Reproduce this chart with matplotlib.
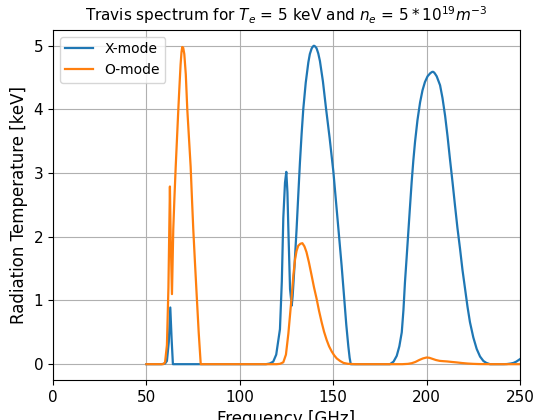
import matplotlib
matplotlib.use("Agg")
import matplotlib.pyplot as plt

# X-mode spectrum (frequency in GHz, radiation temperature in keV)
x_freq = [50, 58, 60, 61, 62, 62.8, 63.5, 64.2, 70, 100, 114, 116, 117.9, 119.5,
          121.5, 122.5, 123.3, 124.2, 124.9, 125.5, 126, 126.9, 127.8, 128.3,
          129.3, 130.4, 131.3, 132.2, 133.1, 134.0, 135.3, 136.7, 137.5, 138.5,
          139.2, 139.7, 140.3, 141.1, 142.0, 142.9, 144.5, 146.1, 148.1, 150.1,
          151.6, 153.1, 154.5, 155.8, 157.0, 158.1, 158.8, 159.4, 165, 178,
          180.4, 182.3, 184, 185.4, 186.7, 187.6, 188.4, 189.3, 190.2, 191.1,
          192.0, 192.9, 193.8, 195.1, 196.5, 197.8, 199.1, 200.5, 202.0, 203.0,
          203.6, 204.3, 205.4, 207.2, 208.5, 209.9, 211.2, 212.5, 213.9, 215.2,
          216.5, 217.9, 219.2, 220.6, 221.9, 223.2, 225.0, 226.8, 228.6, 230.4,
          232.0, 233.9, 238, 241, 243, 245, 246.5, 248, 249, 250]
x_temp = [0, 0, 0.01, 0.05, 0.35, 0.89, 0.4, 0, 0, 0, 0, 0.01, 0.04, 0.15,
          0.55, 1.3, 2.3, 2.85, 3.02, 2.7, 2.12, 1.18, 0.92, 1.07,
          1.55, 2.12, 2.65, 3.17, 3.62, 4.01, 4.42, 4.74, 4.87, 4.96,
          4.99, 5.0, 4.99, 4.96, 4.88, 4.76, 4.44, 4.03, 3.55, 3.02,
          2.52, 2.02, 1.55, 1.07, 0.62, 0.28, 0.1, 0.0, 0, 0,
          0.0, 0.04, 0.13, 0.28, 0.5, 0.85, 1.28, 1.67, 2.07, 2.47,
          2.86, 3.2, 3.49, 3.83, 4.11, 4.3, 4.43, 4.52, 4.57, 4.59,
          4.59, 4.57, 4.52, 4.38, 4.18, 3.9, 3.58, 3.22, 2.85, 2.49,
          2.14, 1.81, 1.48, 1.18, 0.9, 0.66, 0.42, 0.24, 0.12, 0.05,
          0.02, 0.0, 0, 0, 0.002, 0.01, 0.02, 0.04, 0.06, 0.08]

# O-mode spectrum
o_freq = [50, 58, 59.1, 60.0, 61.0, 61.8, 62.6, 63.0, 63.7, 64.4, 65.0, 65.7,
          66.4, 67.1, 67.6, 68.3, 68.8, 69.2, 69.7, 70.3, 71.1, 71.9, 72.8,
          73.7, 74.4, 75.1, 76.0, 76.9, 78.0, 79.1, 90, 115, 119.7, 121.5,
          123.3, 124.7, 126.0, 127.8, 128.7, 129.6, 130.4, 131.3, 132.4, 133.5,
          134.6, 135.7, 137.0, 138.4, 139.7, 141.1, 142.4, 143.8, 145.1, 146.5,
          147.8, 149.2, 150.5, 151.9, 153.7, 155.5, 158, 162, 180, 187, 190,
          192, 194, 196, 198, 200, 201.5, 203, 205, 207, 209, 211, 213.5, 216,
          219, 222, 225, 228, 235, 250]
o_temp = [0, 0, 0, 0.03, 0.3, 1.2, 2.79, 2.0, 1.10, 2.12, 2.6, 3.1,
          3.55, 4.0, 4.3, 4.7, 4.9, 4.98, 4.97, 4.87, 4.55, 4.0, 3.55,
          3.1, 2.6, 2.12, 1.6, 1.1, 0.5, 0.0, 0, 0, 0.0, 0.005,
          0.03, 0.15, 0.48, 1.07, 1.4, 1.65, 1.78, 1.86, 1.89, 1.90,
          1.85, 1.76, 1.6, 1.40, 1.21, 1.03, 0.84, 0.66, 0.51, 0.38,
          0.28, 0.2, 0.14, 0.09, 0.05, 0.02, 0.005, 0, 0, 0.0, 0.005,
          0.015, 0.035, 0.065, 0.09, 0.105, 0.1, 0.085, 0.065, 0.052, 0.047, 0.043, 0.035, 0.028,
          0.018, 0.01, 0.005, 0.002, 0, 0]

fig = plt.figure(figsize=(5.35, 4.2), dpi=100)
ax = fig.add_axes([0.099, 0.095, 0.873, 0.834])
ax.plot(x_freq, x_temp, label='X-mode', linewidth=1.6)
ax.plot(o_freq, o_temp, label='O-mode', linewidth=1.6)
ax.set_xlim(0, 250)
ax.set_title(r'Travis spectrum for $T_e$ = 5 keV and $n_e$ = $5*10^{19} m^{-3}$',
             fontsize=11)
ax.set_xlabel('Frequency [GHz]', fontsize=12)
ax.set_ylabel('Radiation Temperature [keV]', fontsize=12)
ax.tick_params(labelsize=11)
ax.grid(True)
ax.legend(loc='upper left', fontsize=10)
fig.savefig('out.png', dpi=100)
